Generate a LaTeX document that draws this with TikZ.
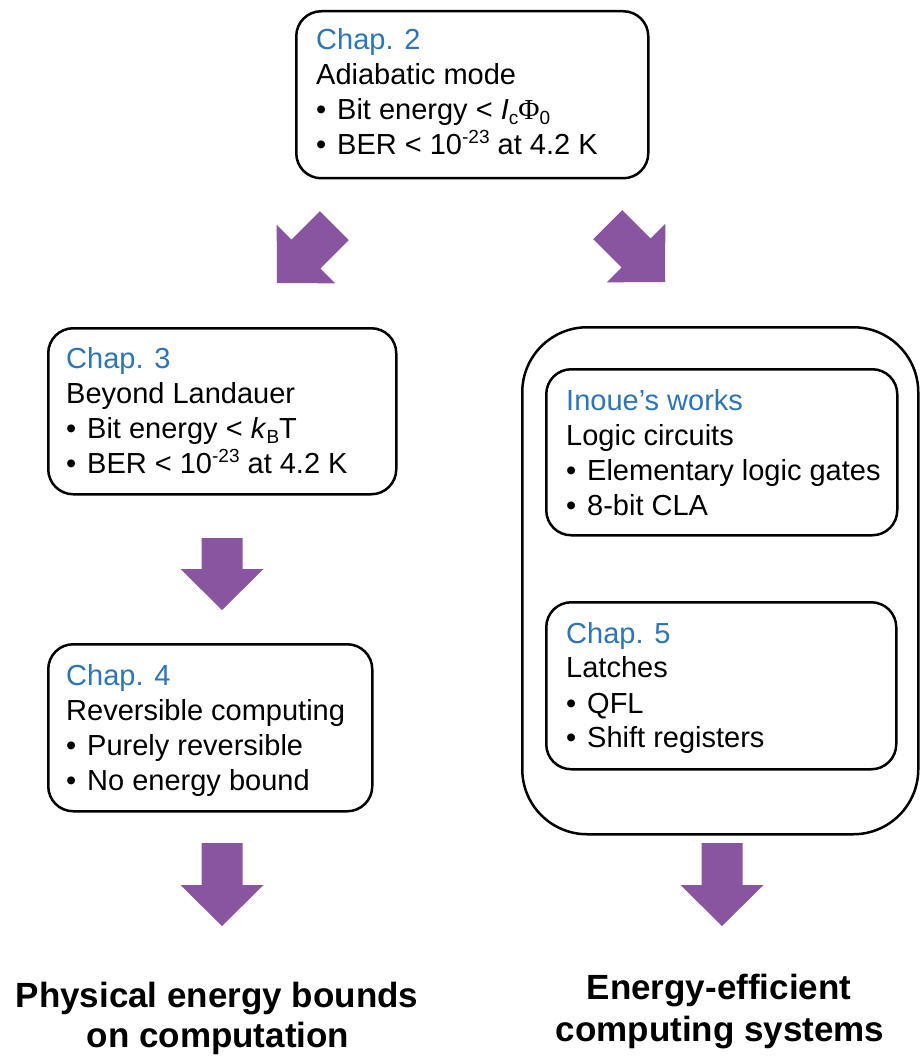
\documentclass[tikz,border=0pt]{standalone}
\usepackage{fontspec}
\setmainfont{Liberation Sans}
\newfontfamily\greekserif{Liberation Serif}
\definecolor{chapblue}{RGB}{46,117,182}
\definecolor{arrowpurple}{RGB}{137,84,160}
\newcommand\mainsz{\fontsize{29}{35}\selectfont}
\newcommand\bottomsz{\fontsize{35}{40}\selectfont\bfseries}
\newcommand\lowidx[1]{\raisebox{-5pt}{\fontsize{19}{19}\selectfont #1}}
\newcommand\highidx[1]{\raisebox{11pt}{\fontsize{19}{19}\selectfont #1}}
\newcommand\bul{\makebox[21pt][l]{•}}
% block arrow: tip coordinate, direction angle, shaft length
\newcommand\blockarrow[3]{%
  \begin{scope}[shift={(#1)},rotate=#2]
    \fill[arrowpurple] (0,0) -- (-41,41.5) -- (-41,20.5) -- ({-41-#3},20.5)
      -- ({-41-#3},-20.5) -- (-41,-20.5) -- (-41,-41.5) -- cycle;
  \end{scope}}
\begin{document}
\begin{tikzpicture}[x=1pt,y=-1pt,
  box/.style={draw, line width=2.5pt, rounded corners=25pt, anchor=north west, inner sep=0pt},
  ln/.style={anchor=base west, inner sep=0pt, font=\mainsz},
  hd/.style={ln, text=chapblue},
  bt/.style={anchor=base, inner sep=0pt, font=\bottomsz}]
\useasboundingbox[fill=white] (0,0) rectangle (920,1059);

% boxes
\node[box, minimum width=352pt, minimum height=167pt] (c2) at (295,10) {};
\node[box, minimum width=348pt, minimum height=166pt] (c3) at (47,327) {};
\node[box, minimum width=324pt, minimum height=167pt] (c4) at (47,643) {};
\node[box, rounded corners=65pt, minimum width=396pt, minimum height=507pt] (outer) at (521,326) {};
\node[box, minimum width=351pt, minimum height=166pt] (ino) at (545,368) {};
\node[box, minimum width=350pt, minimum height=167pt] (c5) at (545,601) {};

% Chap. 2
\node[hd] (c2a) at (316,50) {Chap. 2};
\node[ln] (c2b) at (316,85) {Adiabatic mode};
\node[ln] (c2c) at (316,120) {\bul Bit energy < \textit{I}\lowidx{c}{\greekserif Φ}\lowidx{0}};
\node[ln] (c2d) at (316,155) {\bul BER < 10\highidx{-23} at 4.2 K};

% Chap. 3
\node[hd] (c3a) at (66,368) {Chap. 3};
\node[ln] (c3b) at (66,403) {Beyond Landauer};
\node[ln] (c3c) at (66,438) {\bul Bit energy < \textit{k}\lowidx{B}T};
\node[ln] (c3d) at (66,473) {\bul BER < 10\highidx{-23} at 4.2 K};

% Chap. 4
\node[hd] (c4a) at (66,685) {Chap. 4};
\node[ln] (c4b) at (66,720) {Reversible computing};
\node[ln] (c4c) at (66,755) {\bul Purely reversible};
\node[ln] (c4d) at (66,790) {\bul No energy bound};

% Inoue's works
\node[hd] (inoa) at (566,410) {Inoue’s works};
\node[ln] (inob) at (566,445) {Logic circuits};
\node[ln] (inoc) at (566,480) {\bul Elementary logic gates};
\node[ln] (inod) at (566,515) {\bul 8-bit CLA};

% Chap. 5
\node[hd] (c5a) at (566,643) {Chap. 5};
\node[ln] (c5b) at (566,677) {Latches};
\node[ln] (c5c) at (566,713) {\bul QFL};
\node[ln] (c5d) at (566,747) {\bul Shift registers};

% arrows
\coordinate (tipA) at (277,283);
\coordinate (tipB) at (665,282);
\coordinate (tipC) at (222,610);
\coordinate (tipD) at (222,926);
\coordinate (tipE) at (722,926);
\blockarrow{tipA}{-135}{40}
\blockarrow{tipB}{-45}{40}
\blockarrow{tipC}{-90}{31}
\blockarrow{tipD}{-90}{42}
\blockarrow{tipE}{-90}{42}

% bottom texts
\node[bt] (b1) at (217,1007) {Physical energy bounds};
\node[bt] (b2) at (218,1047) {on computation};
\node[bt] (b3) at (719,999) {Energy-efficient};
\node[bt] (b4) at (720,1041) {computing systems};
\end{tikzpicture}
\end{document}
